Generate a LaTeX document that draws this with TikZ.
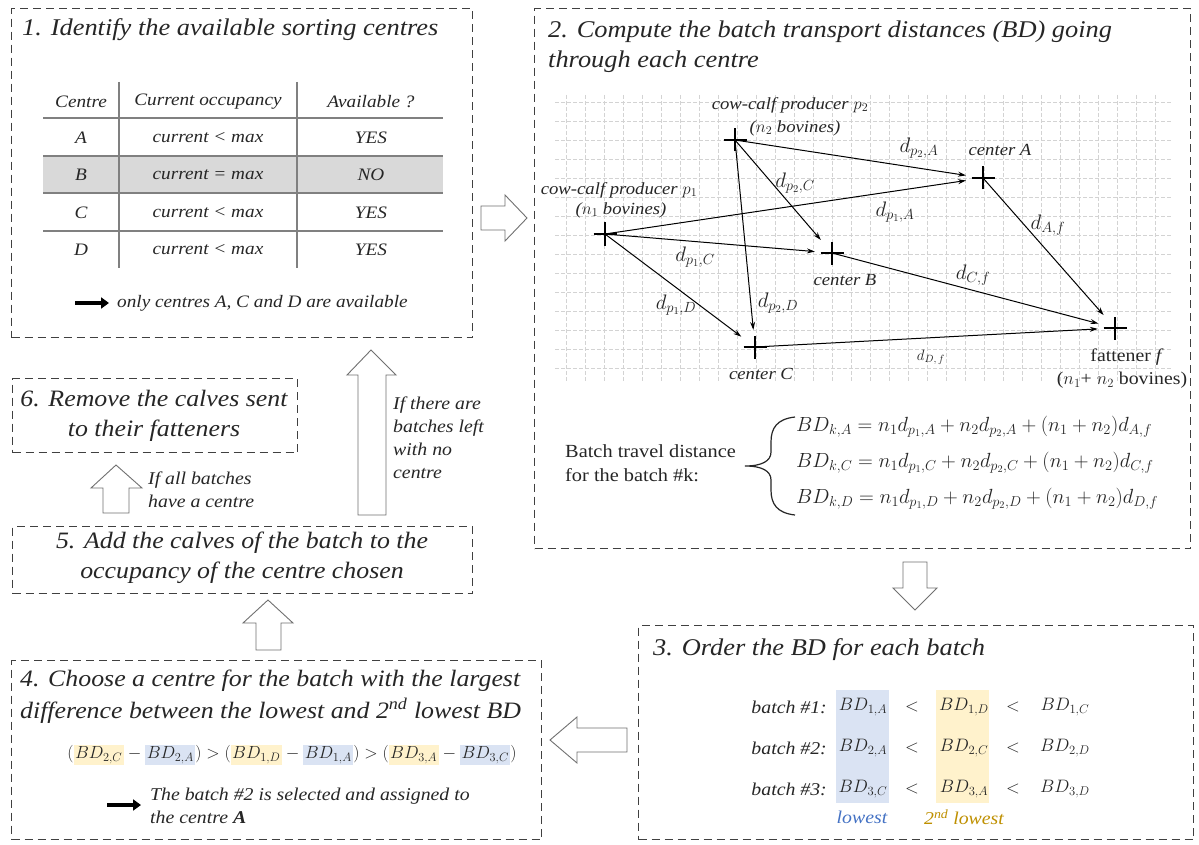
\documentclass[tikz,border=0pt]{standalone}
\usepackage{fix-cm}
\usepackage{fontspec}
\setmainfont{Liberation Serif}[FakeStretch=1.1]
\usetikzlibrary{arrows.meta}
\definecolor{boxgray}{HTML}{404040}
\definecolor{gridgray}{HTML}{D3D3D3}
\definecolor{rowgray}{HTML}{D9D9D9}
\definecolor{tblline}{HTML}{808080}
\definecolor{lblue}{HTML}{DAE3F3}
\definecolor{lyellow}{HTML}{FFF2CC}
\definecolor{tblue}{HTML}{4472C4}
\definecolor{tgold}{HTML}{BF9000}
\definecolor{txt}{HTML}{262626}
\definecolor{arrgray}{HTML}{707070}
\newcommand{\hly}[1]{{\setlength{\fboxsep}{1.5pt}\colorbox{lyellow}{$#1$}}}
\newcommand{\hlb}[1]{{\setlength{\fboxsep}{1.5pt}\colorbox{lblue}{$#1$}}}
\tikzset{
  stepbox/.style={draw=boxgray, line width=1.3pt, dash pattern=on 8pt off 5pt, inner sep=0pt, anchor=north west},
  ttl/.style={font=\fontsize{24}{30}\selectfont\itshape, text=txt, inner sep=0pt},
  cell/.style={font=\fontsize{17.5}{20}\selectfont\itshape, text=txt, inner sep=0pt},
  note/.style={font=\fontsize{18}{23}\selectfont\itshape, text=txt, inner sep=0pt, anchor=west, align=left},
  glabel/.style={font=\fontsize{17}{21}\selectfont\itshape, text=txt, inner sep=0pt},
  elabel/.style={font=\fontsize{21}{22}\selectfont, text=txt, inner sep=0pt},
  crossnode/.style={circle, minimum size=34pt, inner sep=0pt,
    path picture={
      \draw[line width=2pt,black] ([xshift=-11.5pt]path picture bounding box.center) -- ([xshift=11.5pt]path picture bounding box.center);
      \draw[line width=2pt,black] ([yshift=-11.5pt]path picture bounding box.center) -- ([yshift=11.5pt]path picture bounding box.center);}},
  flow/.style={line width=1pt, draw=black, -{Stealth[length=8pt,width=5pt]}},
  blockarrow/.style={draw=arrgray, fill=white, line width=0.9pt, line join=miter},
  gridline/.style={draw=gridgray, line width=0.7pt, dash pattern=on 4pt off 2pt},
  tline/.style={draw=tblline, line width=1.4pt},
  fatarrow/.style={line width=3.5pt, -{Triangle[length=8pt,width=11pt]}},
}
\begin{document}
\begin{tikzpicture}[x=1pt,y=-1pt]
\useasboundingbox[fill=white] (0,0) rectangle (1199,845);

% ---------- boxes ----------
\node[stepbox, minimum width=461pt, minimum height=329pt] (b1) at (11,8) {};
\node[stepbox, minimum width=656pt, minimum height=540pt] (b2) at (534,8) {};
\node[stepbox, minimum width=555pt, minimum height=214pt] (b3) at (638,625) {};
\node[stepbox, minimum width=530pt, minimum height=179pt] (b4) at (11,660) {};
\node[stepbox, minimum width=460pt, minimum height=67pt] (b5) at (12,526) {};
\node[stepbox, minimum width=285pt, minimum height=74pt] (b6) at (12,378) {};

% ---------- box 1 ----------
\node[ttl, anchor=west] (t1) at (22,30) {1. Identify the available sorting centres};
\fill[rowgray] (43,156) rectangle (443,193);
\draw[tline] (43,118) -- (443,118);
\draw[tline] (43,156) -- (443,156);
\draw[tline] (43,193) -- (443,193);
\draw[tline] (43,231) -- (443,231);
\draw[tline] (119,82) -- (119,268);
\draw[tline] (297,82) -- (297,268);
\node[cell] (h1) at (81,102) {Centre};
\node[cell] (h2) at (208,102) {Current occupancy};
\node[cell] (h3) at (371,102) {Available ?};
\node[cell] (rA) at (81,138) {A};
\node[cell] (rB) at (81,175) {B};
\node[cell] (rC) at (81,213) {C};
\node[cell] (rD) at (81,250) {D};
\node[cell] (oA) at (208,138) {current < max};
\node[cell] (oB) at (208,175) {current = max};
\node[cell] (oC) at (208,213) {current < max};
\node[cell] (oD) at (208,250) {current < max};
\node[cell] (vA) at (371,138) {YES};
\node[cell] (vB) at (371,175) {NO};
\node[cell] (vC) at (371,213) {YES};
\node[cell] (vD) at (371,250) {YES};
\coordinate (f1s) at (75,303);
\coordinate (f1e) at (109,303);
\draw[fatarrow] (f1s) -- (f1e);
\node[cell, anchor=west] (n1) at (117,303) {only centres A, C and D are available};

% ---------- box 2 ----------
\node[ttl, anchor=west] (t2a) at (548,32) {2. Compute the batch transport\ distances (BD) going};
\node[ttl, anchor=west] (t2b) at (548,62) {through each centre};
\foreach \i in {0,...,31} {\draw[gridline] (566+19*\i,95) -- (566+19*\i,382);}
\foreach \j in {0,...,14} {\draw[gridline] (555,102+19*\j) -- (1172,102+19*\j);}

\node[crossnode] (p2) at (735,140) {};
\node[crossnode] (p1) at (605,234) {};
\node[crossnode] (cA) at (983,178) {};
\node[crossnode] (cB) at (832,253) {};
\node[crossnode] (cC) at (755,347) {};
\node[crossnode] (ff) at (1115,328) {};

\draw[flow] (p2.center) -- (cA);
\draw[flow] (p2.center) -- (cB);
\draw[flow] (p2.center) -- (cC);
\draw[flow] (p1.center) -- (cA);
\draw[flow] (p1.center) -- (cB);
\draw[flow] (p1.center) -- (cC);
\draw[flow] (cA.center) -- (ff);
\draw[flow] (cB.center) -- (ff);
\draw[flow] (cC.center) -- (ff);

\node[glabel] (lp2a) at (790,105) {cow-calf producer $p_2$};
\node[glabel] (lp2b) at (795,128) {($n_2$ bovines)};
\node[glabel] (lp1a) at (619,190) {cow-calf producer $p_1$};
\node[glabel] (lp1b) at (621,210) {($n_1$ bovines)};
\node[glabel] (lA) at (1000,150) {center A};
\node[glabel] (lB) at (845,280) {center B};
\node[glabel] (lC) at (761,374) {center C};
\node[glabel, font=\fontsize{18}{21}\selectfont] (lf1) at (1127,357) {fattener \textit{f}};
\node[glabel, font=\fontsize{18}{21}\selectfont] (lf2) at (1122,380) {($n_1$+ $n_2$ bovines)};

\node[elabel] (e1) at (919,148) {$d_{p_2,A}$};
\node[elabel] (e2) at (795,183) {$d_{p_2,C}$};
\node[elabel] (e3) at (895,212) {$d_{p_1,A}$};
\node[elabel] (e4) at (1048,225) {$d_{A,f}$};
\node[elabel] (e5) at (695,257) {$d_{p_1,C}$};
\node[elabel] (e6) at (973,275) {$d_{C,f}$};
\node[elabel] (e7) at (676,305) {$d_{p_1,D}$};
\node[elabel] (e8) at (778,303) {$d_{p_2,D}$};
\node[elabel, font=\fontsize{15}{16}\selectfont] (e9) at (931,357) {$d_{D,\,f}$};

\node[anchor=west, font=\fontsize{18.5}{24}\selectfont, text=txt, align=left, inner sep=0pt] (btd) at (565,463) {Batch travel distance\\for the batch \#k:};
\draw[line width=1.2pt, txt] (795,417) .. controls (777,419) and (771,428) .. (771,442) -- (771,452)
   .. controls (771,461) and (762,466) .. (745,466)
   .. controls (762,466) and (771,471) .. (771,480) -- (771,490)
   .. controls (771,504) and (777,513) .. (795,515);
\node[anchor=west, font=\fontsize{20.5}{22}\selectfont, text=txt, inner sep=0pt] (eqA) at (796,427) {$BD_{k,A} = n_1 d_{p_1,A} + n_2 d_{p_2,A} + (n_1+n_2) d_{A,f}$};
\node[anchor=west, font=\fontsize{20.5}{22}\selectfont, text=txt, inner sep=0pt] (eqC) at (796,463) {$BD_{k,C} = n_1 d_{p_1,C} + n_2 d_{p_2,C} + (n_1+n_2) d_{C,f}$};
\node[anchor=west, font=\fontsize{20.5}{22}\selectfont, text=txt, inner sep=0pt] (eqD) at (796,499) {$BD_{k,D} = n_1 d_{p_1,D} + n_2 d_{p_2,D} + (n_1+n_2) d_{D,f}$};

% ---------- box 3 ----------
\node[ttl, anchor=west] (t3) at (653,650) {3. Order the BD for each batch};
\fill[lblue] (836,690) rectangle (889,803);
\fill[lyellow] (936,690) rectangle (989,803);
\node[cell, font=\fontsize{18}{20}\selectfont\itshape, anchor=east] (k1) at (827,707) {batch \#1:};
\node[cell, font=\fontsize{18}{20}\selectfont\itshape, anchor=east] (k2) at (827,748) {batch \#2:};
\node[cell, font=\fontsize{18}{20}\selectfont\itshape, anchor=east] (k3) at (827,789) {batch \#3:};
\begin{scope}[every node/.style={font=\fontsize{18}{21}\selectfont, text=txt, inner sep=0pt}]
\node (m11) at (863,707) {$BD_{1,A}$};
\node (m12) at (964,707) {$BD_{1,D}$};
\node (m13) at (1065,707) {$BD_{1,C}$};
\node (m21) at (863,748) {$BD_{2,A}$};
\node (m22) at (964,748) {$BD_{2,C}$};
\node (m23) at (1065,748) {$BD_{2,D}$};
\node (m31) at (863,789) {$BD_{3,C}$};
\node (m32) at (964,789) {$BD_{3,A}$};
\node (m33) at (1065,789) {$BD_{3,D}$};
\node (lt11) at (912,707) {$<$};
\node (lt12) at (1013,707) {$<$};
\node (lt21) at (912,748) {$<$};
\node (lt22) at (1013,748) {$<$};
\node (lt31) at (912,789) {$<$};
\node (lt32) at (1013,789) {$<$};
\end{scope}
\node[cell, font=\fontsize{18}{20}\selectfont\itshape, text=tblue] (low1) at (862,817) {lowest};
\node[cell, font=\fontsize{18}{20}\selectfont\itshape, text=tgold] (low2) at (964,817) {2\textsuperscript{nd} lowest};

% ---------- box 4 ----------
\node[ttl, anchor=west, font=\fontsize{23.5}{30}\selectfont\itshape] (t4a) at (20,681) {4. Choose a centre for the batch with the largest};
\node[ttl, anchor=west, font=\fontsize{23.5}{30}\selectfont\itshape] (t4b) at (20,711) {difference between the lowest and 2\textsuperscript{nd} lowest BD};
\node[font=\fontsize{17.5}{20}\selectfont, text=txt, inner sep=0pt] (ineq) at (292,755)
  {$\big(\hly{BD_{2,C}} - \hlb{BD_{2,A}}\big) > \big(\hly{BD_{1,D}} - \hlb{BD_{1,A}}\big) > \big(\hly{BD_{3,A}} - \hlb{BD_{3,C}}\big)$};
\coordinate (f4s) at (107,805);
\coordinate (f4e) at (141,805);
\draw[fatarrow] (f4s) -- (f4e);
\node[note, font=\fontsize{18}{23}\selectfont\itshape] (n4) at (150,806) {The batch \#2 is selected and assigned to\\the centre \textbf{\textit{A}}};

% ---------- box 5 & 6 ----------
\node[ttl, align=center, font=\fontsize{23.5}{30}\selectfont\itshape] (t5) at (242,558) {5. Add the calves of the batch to the\\occupancy of the centre chosen};
\node[ttl, align=center, font=\fontsize{23.5}{30}\selectfont\itshape] (t6) at (154,416) {6. Remove the calves sent\\to their fatteners};

% ---------- block arrows ----------
\draw[blockarrow] (481,206) -- (505,206) -- (505,195) -- (527,218) -- (505,241) -- (505,230) -- (481,230) -- cycle;
\draw[blockarrow] (903,562) -- (927,562) -- (927,588) -- (937,588) -- (915,610) -- (893,588) -- (903,588) -- cycle;
\draw[blockarrow] (627,728) -- (577,728) -- (577,717) -- (550,740) -- (577,763) -- (577,752) -- (627,752) -- cycle;
\draw[blockarrow] (256,650) -- (256,623) -- (243,623) -- (268,600) -- (293,623) -- (281,623) -- (281,650) -- cycle;
\draw[blockarrow] (103,513) -- (103,488) -- (91,488) -- (116,465) -- (142,488) -- (129,488) -- (129,513) -- cycle;
\draw[blockarrow] (358,515) -- (358,375) -- (347,375) -- (371,350) -- (396,375) -- (386,375) -- (386,515) -- cycle;

\node[note] (c56) at (148,490) {If all batches\\have a centre};
\node[note] (c51) at (393,438) {If there are\\batches left\\with no\\centre};

\end{tikzpicture}
\end{document}
